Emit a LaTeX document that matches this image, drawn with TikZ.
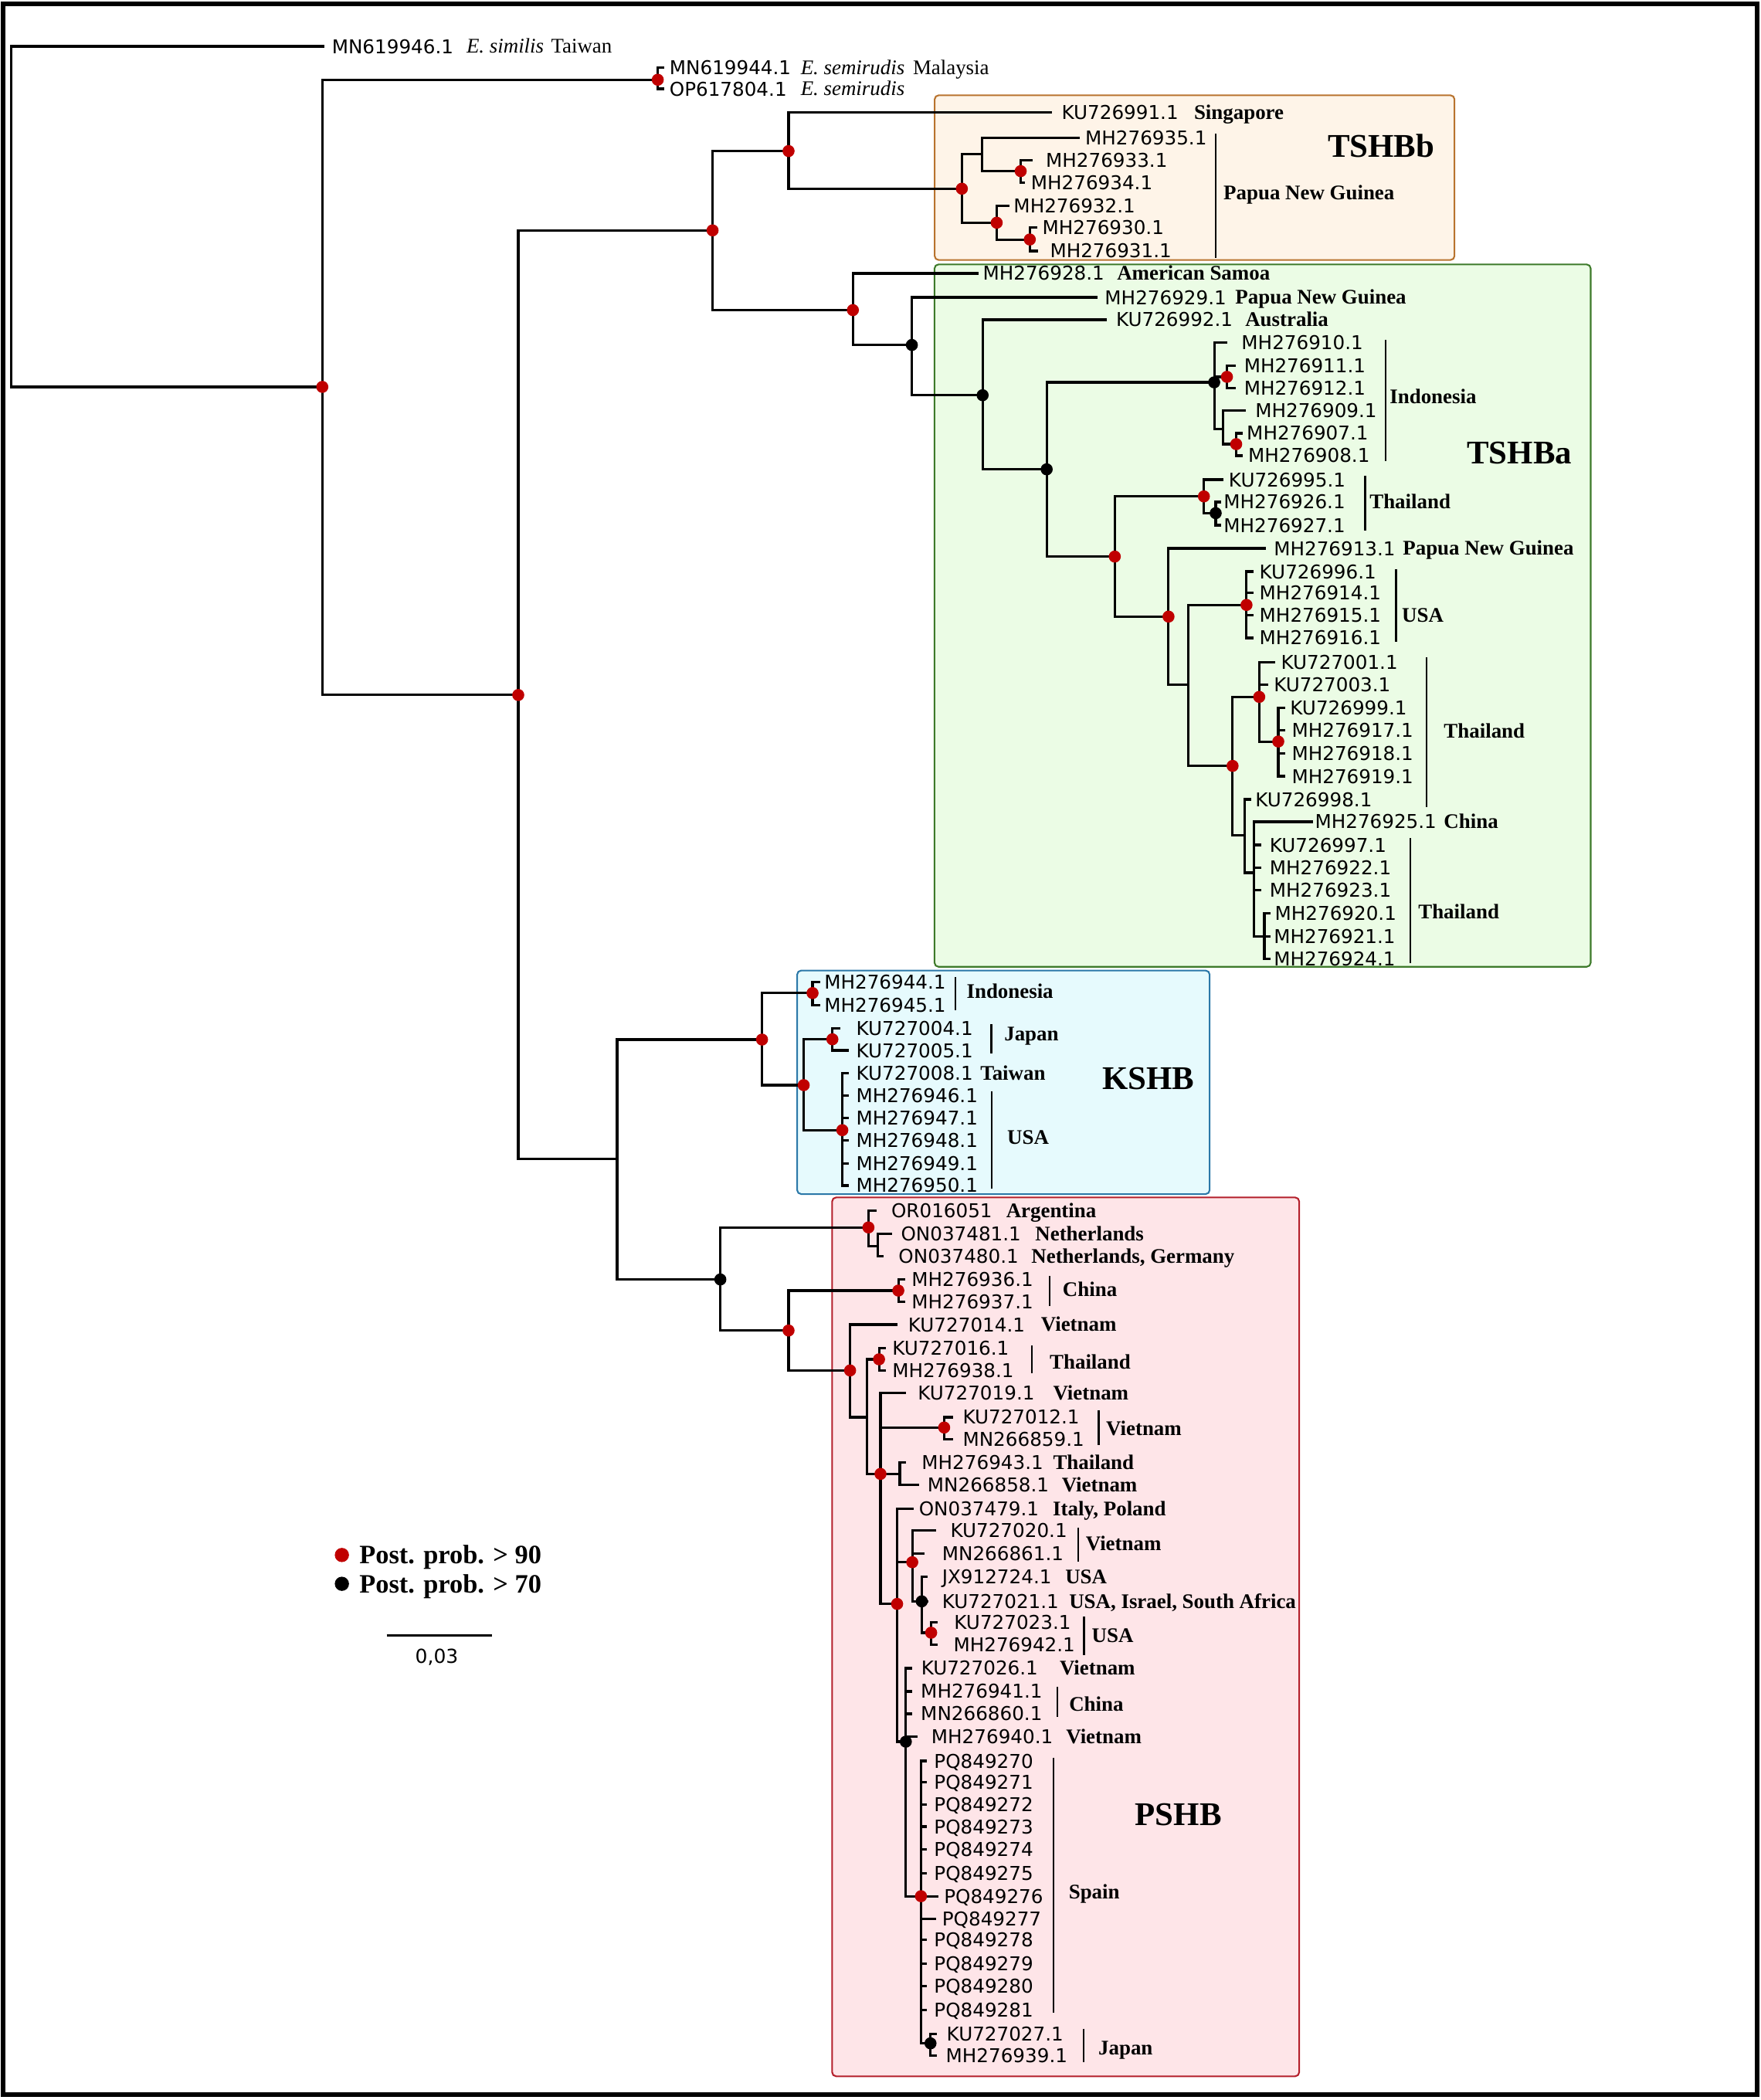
\documentclass[tikz,border=0pt]{standalone}
\usepackage{fontspec}
\newfontfamily\idf{DejaVu Sans}
\newfontfamily\serf{Liberation Serif}
\definecolor{dotred}{HTML}{C00000}
\definecolor{bbfill}{HTML}{FEF4E8}\definecolor{bbdraw}{HTML}{B8732E}
\definecolor{bafill}{HTML}{EBFCE5}\definecolor{badraw}{HTML}{3D7A2A}
\definecolor{kfill}{HTML}{E6FAFD}\definecolor{kdraw}{HTML}{2B78A8}
\definecolor{pfill}{HTML}{FEE5E8}\definecolor{pdraw}{HTML}{B41F2B}
\tikzset{
 br/.style={line width=1.8pt, line cap=rect},
 bk/.style={line width=1.4pt},
 cbox/.style={line width=1.2pt, rounded corners=3pt},
 idl/.style={anchor=west, inner sep=0pt, font=\idf\fontsize{14.2}{16}\selectfont, text height=10.35pt, text depth=0pt},
 ctl/.style={anchor=west, inner sep=0pt, font=\serf\bfseries\fontsize{15.5}{18}\selectfont, text height=10.26pt, text depth=0pt},
 spl/.style={anchor=west, inner sep=0pt, font=\serf\itshape\fontsize{15.5}{18}\selectfont, text height=10.26pt, text depth=0pt},
 rgl/.style={anchor=west, inner sep=0pt, font=\serf\fontsize{15.5}{18}\selectfont, text height=10.26pt, text depth=0pt},
 cll/.style={anchor=base west, inner sep=0pt, font=\serf\bfseries\fontsize{24.7}{28}\selectfont},
 lgl/.style={anchor=west, inner sep=0pt, font=\serf\bfseries\fontsize{19.8}{22}\selectfont, text height=13.1pt, text depth=0pt},
}
\newcommand\tip[6]{\coordinate (#2) at (#3,#4); \draw[br] (#1) |- (#2); \node[idl] (#2l) at (#5,#4) {#6};}
\newcommand\inode[4]{\coordinate (#2) at (#3,#4); \draw[br] (#1) |- (#2);}
\newcommand\ctry[4]{\node[ctl] (#1) at (#2,#3) {#4};}
\begin{document}
\begin{tikzpicture}[x=1pt,y=-1pt]
\useasboundingbox (0,0) rectangle (1314,1567);
% clade boxes
\draw[cbox, draw=bbdraw, fill=bbfill] (697.4,71.1) rectangle (1085.3,194.0);
\draw[cbox, draw=badraw, fill=bafill] (697.3,197.3) rectangle (1186.9,721.4);
\draw[cbox, draw=kdraw, fill=kfill] (594.8,724.2) rectangle (902.6,891.0);
\draw[cbox, draw=pdraw, fill=pfill] (620.9,893.5) rectangle (969.4,1549.3);
% frame
\draw[line width=3.5pt] (2.5,3) rectangle (1311.2,1563.2);

% ---------- tree ----------
\coordinate (root) at (8.6,288.7);
\tip{root}{tMN619946}{241}{34.6}{247.5}{MN619946.1}
\node[spl] (sp1) at (347.9,34.6) {E. similis};
\node[rgl] (c0) at (411.0,34.6) {Taiwan};
\inode{root}{n1}{240.5}{288.7}
\inode{n1}{sem}{490.8}{59.5}
\tip{sem}{tMN619944}{495}{50.3}{499.4}{MN619944.1}
\tip{sem}{tOP617804}{495}{66.3}{499.4}{OP617804.1}
\node[spl] (sp2) at (597.3,50.3) {E. semirudis};
\node[rgl] (c00) at (681.0,50.3) {Malaysia};
\node[spl] (sp3) at (597.3,66.3) {E. semirudis};
\inode{n1}{n2}{386.7}{518.6}
\inode{n2}{n3}{531.7}{171.9}
% TSHBb
\inode{n3}{A}{588.4}{112.7}
\tip{A}{tKU726991}{784.3}{84.1}{792}{KU726991.1}
\ctry{cSing}{890.8}{84.1}{Singapore}
\inode{A}{B}{717.7}{140.8}
\inode{B}{C}{732.9}{114.9}
\tip{C}{tMH276935}{804.6}{102.8}{809.6}{MH276935.1}
\inode{C}{D}{761.6}{127.7}
\tip{D}{tMH276933}{769.8}{119.5}{780.2}{MH276933.1}
\tip{D}{tMH276934}{764}{136.4}{769.1}{MH276934.1}
\inode{B}{E}{743.7}{166.2}
\tip{E}{tMH276932}{752.2}{153.7}{756.2}{MH276932.1}
\inode{E}{F}{768.4}{178.7}
\tip{F}{tMH276930}{772.9}{169.6}{777.6}{MH276930.1}
\tip{F}{tMH276931}{773.9}{187.3}{783.3}{MH276931.1}
\draw[bk] (907,99.9) -- (907,192.5);
\ctry{cPNG1}{912.8}{144.1}{Papua New Guinea}
\node[cll] (TSHBb) at (990.6,117.2) {TSHBb};
% TSHBa
\inode{n3}{G}{636.4}{231.4}
\tip{G}{tMH276928}{729.4}{204.0}{733.2}{MH276928.1}
\ctry{cAS}{833.3}{204.0}{American Samoa}
\inode{G}{H}{680.4}{257.4}
\tip{H}{tMH276929}{818.0}{221.9}{824.2}{MH276929.1}
\ctry{cPNG2}{921.6}{221.9}{Papua New Guinea}
\inode{H}{I}{733.2}{294.9}
\tip{I}{tKU726992}{824.9}{238.6}{832.6}{KU726992.1}
\ctry{cAus}{929.0}{238.6}{Australia}
\inode{I}{J}{781.0}{350.2}
\inode{J}{K}{906.0}{285.3}
\tip{K}{tMH276910}{915.1}{255.5}{926.2}{MH276910.1}
\inode{K}{K1}{915.5}{281.2}
\tip{K1}{tMH276911}{921}{272.8}{928.1}{MH276911.1}
\tip{K1}{tMH276912}{921}{289.7}{928.1}{MH276912.1}
\inode{K}{K2}{912.8}{319.9}
\tip{K2}{tMH276909}{928.9}{306.4}{936.5}{MH276909.1}
\inode{K2}{K3}{922.4}{331.4}
\tip{K3}{tMH276907}{926.5}{323.3}{930.1}{MH276907.1}
\tip{K3}{tMH276908}{926.5}{340.0}{931.2}{MH276908.1}
\draw[bk] (1034.0,253.6) -- (1034.0,343.9);
\ctry{cIndo1}{1036.8}{295.8}{Indonesia}
\node[cll] (TSHBa) at (1094.4,345.8) {TSHBa};
\inode{J}{L}{831.8}{415.3}
\inode{L}{M}{898.3}{370.4}
\tip{M}{tKU726995}{912.1}{357.9}{916.7}{KU726995.1}
\inode{M}{M1}{907.1}{382.9}
\tip{M1}{tMH276926}{910.5}{374.6}{912.9}{MH276926.1}
\tip{M1}{tMH276927}{910.5}{391.9}{912.9}{MH276927.1}
\draw[bk] (1018.7,355.0) -- (1018.7,396.1);
\ctry{cTh1}{1021.8}{374.2}{Thailand}
\inode{L}{N}{871.9}{460.1}
\tip{N}{tMH276913}{943.4}{409.2}{950.3}{MH276913.1}
\ctry{cPNG3}{1046.6}{409.2}{Papua New Guinea}
\inode{N}{O}{886.9}{511.0}
\inode{O}{P}{930.1}{451.4}
\tip{P}{tKU726996}{934.5}{426.5}{939.6}{KU726996.1}
\tip{P}{tMH276914}{934.5}{442.2}{939.6}{MH276914.1}
\tip{P}{tMH276915}{934.5}{459.1}{939.6}{MH276915.1}
\tip{P}{tMH276916}{934.5}{476.0}{939.6}{MH276916.1}
\draw[bk] (1041.7,424.9) -- (1041.7,478.9);
\ctry{cUSA1}{1045.9}{459.1}{USA}
\inode{O}{Q}{919.7}{571.5}
\inode{Q}{R}{939.6}{520.0}
\tip{R}{tKU727001}{950.3}{494.1}{955.7}{KU727001.1}
\tip{R}{tKU727003}{945.3}{511.0}{950.3}{KU727003.1}
\inode{R}{R1}{953.8}{553.3}
\tip{R1}{tKU726999}{958}{528.3}{962.5}{KU726999.1}
\tip{R1}{tMH276917}{958}{545.0}{963.7}{MH276917.1}
\tip{R1}{tMH276918}{958}{562.3}{963.7}{MH276918.1}
\tip{R1}{tMH276919}{958}{579.2}{963.7}{MH276919.1}
\draw[bk] (1064.6,490.4) -- (1064.6,602.3);
\ctry{cTh2}{1077.2}{545.6}{Thailand}
\inode{Q}{S}{928.9}{623.4}
\tip{S}{tKU726998}{932.5}{596.5}{936.5}{KU726998.1}
\inode{S}{T}{935.8}{651.2}
\tip{T}{tMH276925}{979}{613.2}{981}{MH276925.1}
\ctry{cChina1}{1077.2}{613.2}{China}
\tip{T}{tKU726997}{940.5}{630.5}{947.2}{KU726997.1}
\tip{T}{tMH276922}{940.5}{647.4}{947.2}{MH276922.1}
\tip{T}{tMH276923}{940.5}{664.3}{947.2}{MH276923.1}
\inode{T}{U}{943.4}{698.7}
\tip{U}{tMH276920}{947}{681.6}{951.1}{MH276920.1}
\tip{U}{tMH276921}{947}{698.7}{950.3}{MH276921.1}
\tip{U}{tMH276924}{947}{715.6}{950.3}{MH276924.1}
\draw[bk] (1052.4,625.3) -- (1052.4,718.5);
\ctry{cTh3}{1058.1}{680.1}{Thailand}
% KSHB
\inode{n2}{W}{460.5}{865.0}
\inode{W}{X}{568.6}{775.7}
\inode{X}{X1}{606.3}{741.0}
\tip{X1}{tMH276944}{611}{732.9}{614.9}{MH276944.1}
\tip{X1}{tMH276945}{611}{750.2}{614.9}{MH276945.1}
\draw[bk] (712.8,729.0) -- (712.8,754.0);
\ctry{cIndo2}{721.1}{739.6}{Indonesia}
\inode{X}{Y}{599.7}{809.7}
\inode{Y}{Y1}{621.1}{775.5}
\tip{Y1}{tKU727004}{626}{767.1}{638.7}{KU727004.1}
\tip{Y1}{tKU727005}{632.5}{783.8}{638.7}{KU727005.1}
\draw[bk] (739.6,764.2) -- (739.6,786.1);
\ctry{cJap1}{749.2}{771.3}{Japan}
\inode{Y}{Z}{628.5}{843.3}
\tip{Z}{tKU727008}{632.5}{800.7}{638.7}{KU727008.1}
\ctry{cTw}{731.3}{800.7}{Taiwan}
\tip{Z}{tMH276946}{632.5}{817.4}{638.7}{MH276946.1}
\tip{Z}{tMH276947}{632.5}{834.1}{638.7}{MH276947.1}
\tip{Z}{tMH276948}{632.5}{851.0}{638.7}{MH276948.1}
\tip{Z}{tMH276949}{632.5}{868.3}{638.7}{MH276949.1}
\tip{Z}{tMH276950}{632.5}{884.6}{638.7}{MH276950.1}
\draw[bk] (740.0,814.5) -- (740.0,887.1);
\ctry{cUSA2}{751.4}{848.7}{USA}
\node[cll] (KSHB) at (822.4,812.6) {KSHB};
% PSHB
\inode{W}{AA}{537.5}{954.7}
\inode{AA}{AB}{648.0}{915.9}
\tip{AB}{tOR016051}{653}{903.5}{664.9}{OR016051}
\ctry{cArg}{750.6}{903.5}{Argentina}
\coordinate (ABb) at (648.0,929.8);
\draw[br] (AB) -- (ABb);
\inode{ABb}{AB1}{654.8}{929.8}
\tip{AB1}{tON037481}{664.9}{920.6}{672.1}{ON037481.1}
\ctry{cNeth}{772.3}{920.6}{Netherlands}
\tip{AB1}{tON037480}{658.4}{937.5}{670.3}{ON037480.1}
\ctry{cNG}{769.4}{937.5}{Netherlands, Germany}
\inode{AA}{AC}{588.4}{992.8}
\inode{AC}{AD}{670.3}{963.0}
\tip{AD}{tMH276936}{674.5}{954.8}{680.1}{MH276936.1}
\tip{AD}{tMH276937}{674.5}{971.5}{680.1}{MH276937.1}
\draw[bk] (783.1,952.3) -- (783.1,974.5);
\ctry{cChina2}{792.8}{962.4}{China}
\inode{AC}{AE}{634.3}{1022.6}
\tip{AE}{tKU727014}{668.5}{988.4}{677.5}{KU727014.1}
\ctry{cViet1}{776.6}{988.4}{Vietnam}
\inode{AE}{AF}{646.9}{1057.5}
\inode{AF}{AG}{655.9}{1014.3}
\tip{AG}{tKU727016}{660}{1005.7}{665.6}{KU727016.1}
\tip{AG}{tMH276938}{660}{1022.6}{665.6}{MH276938.1}
\draw[bk] (770.1,1004.1) -- (770.1,1024.9);
\ctry{cTh4}{783.1}{1016.2}{Thailand}
\inode{AF}{AH}{657.0}{1099.8}
\tip{AH}{tKU727019}{675.0}{1039.3}{684.7}{KU727019.1}
\ctry{cViet2}{785.6}{1039.3}{Vietnam}
\inode{AH}{AI}{704.5}{1065.2}
\tip{AI}{tKU727012}{710}{1057.5}{718.2}{KU727012.1}
\tip{AI}{tMN266859}{710}{1073.9}{718.2}{MN266859.1}
\draw[bk] (819.8,1052.1) -- (819.8,1078.3);
\ctry{cViet3}{825.2}{1066.2}{Vietnam}
\inode{AH}{AJ}{671.4}{1099.8}
\tip{AJ}{tMH276943}{675}{1091.1}{687.6}{MH276943.1}
\ctry{cTh5}{785.6}{1091.1}{Thailand}
\tip{AJ}{tMN266858}{684.7}{1107.9}{691.9}{MN266858.1}
\ctry{cViet4}{792.1}{1107.9}{Vietnam}
\inode{AH}{AK}{669.4}{1196.8}
\tip{AK}{tON037479}{680.7}{1125.7}{685.5}{ON037479.1}
\ctry{cItPl}{785.4}{1125.7}{Italy, Poland}
\inode{AK}{AL}{680.7}{1165.7}
\tip{AL}{tKU727020}{697.7}{1142.1}{709.0}{KU727020.1}
\tip{AL}{tMN266861}{689.2}{1159.3}{702.8}{MN266861.1}
\draw[bk] (804.6,1139.8) -- (804.6,1165.1);
\ctry{cViet5}{810.0}{1152.0}{Vietnam}
\inode{AL}{AN}{687.8}{1194.9}
\tip{AN}{tJX912724}{691.5}{1176.6}{702.8}{JX912724.1}
\ctry{cUSA3}{794.7}{1176.6}{USA}
\tip{AN}{tKU727021}{692}{1194.9}{702.8}{KU727021.1}
\ctry{cUISA}{797.6}{1194.9}{USA, Israel, South Africa}
\inode{AN}{AO}{694.8}{1218.3}
\tip{AO}{tKU727023}{698.5}{1210.3}{711.8}{KU727023.1}
\tip{AO}{tMH276942}{698.5}{1227.0}{711.3}{MH276942.1}
\draw[bk] (808.9,1206.4) -- (808.9,1235.2);
\ctry{cUSA4}{814.5}{1220.4}{USA}
\inode{AK}{AP}{675.9}{1299.6}
\tip{AP}{tKU727026}{679.5}{1244.8}{687.2}{KU727026.1}
\ctry{cViet6}{790.5}{1244.8}{Vietnam}
\tip{AP}{tMH276941}{679.5}{1262.1}{686.9}{MH276941.1}
\tip{AP}{tMN266860}{679.5}{1278.8}{686.9}{MN266860.1}
\draw[bk] (789.1,1258.9) -- (789.1,1281.3);
\ctry{cChina3}{797.6}{1271.7}{China}
\tip{AP}{tMH276940}{683.5}{1295.7}{694.8}{MH276940.1}
\ctry{cViet7}{795.3}{1295.7}{Vietnam}
\inode{AP}{AQ}{687.2}{1414.9}
\tip{AQ}{tPQ849270}{690.5}{1314.0}{696.8}{PQ849270}
\tip{AQ}{tPQ849271}{690.5}{1330.0}{696.8}{PQ849271}
\tip{AQ}{tPQ849272}{690.5}{1346.3}{696.8}{PQ849272}
\tip{AQ}{tPQ849273}{690.5}{1363.0}{696.8}{PQ849273}
\tip{AQ}{tPQ849274}{690.5}{1379.9}{696.8}{PQ849274}
\tip{AQ}{tPQ849275}{690.5}{1397.6}{696.8}{PQ849275}
\tip{AQ}{tPQ849276}{699.1}{1414.9}{704.2}{PQ849276}
\tip{AQ}{tPQ849277}{697.5}{1431.8}{702.8}{PQ849277}
\tip{AQ}{tPQ849278}{690.5}{1447.5}{696.8}{PQ849278}
\tip{AQ}{tPQ849279}{690.5}{1465.2}{696.8}{PQ849279}
\tip{AQ}{tPQ849280}{690.5}{1482.1}{696.8}{PQ849280}
\tip{AQ}{tPQ849281}{690.5}{1499.8}{696.8}{PQ849281}
\draw[bk] (786.2,1311.5) -- (786.2,1501.7);
\ctry{cSpain}{797.3}{1411.6}{Spain}
\inode{AQ}{AR}{694.3}{1524.7}
\tip{AR}{tKU727027}{698}{1517.6}{706.2}{KU727027.1}
\tip{AR}{tMH276939}{698}{1534.0}{705.6}{MH276939.1}
\draw[bk] (808.6,1513.8) -- (808.6,1538.8);
\ctry{cJap2}{819.4}{1528.2}{Japan}
\node[cll] (PSHB) at (846.8,1362.0) {PSHB};

% support dots
\foreach \n in {n1,sem,n2,n3,A,B,D,E,F,G,K1,K3,L,M,N,P,Q,R,R1,X,X1,Y,Y1,Z,AB,AC,AD,AE,AG,AH,AI,AK,AL,AO,AQ}
  \fill[dotred] (\n) circle (4.5pt);
\foreach \n in {H,I,J,K,M1,AA,AN,AP,AR}
  \fill[black] (\n) circle (4.5pt);

% legend
\coordinate (lg1) at (255.1,1160.3);
\coordinate (lg2) at (255.1,1181.8);
\fill[dotred] (lg1) circle (5.3pt);
\fill[black] (lg2) circle (5.3pt);
\node[lgl] (lgt1) at (268.0,1160.3) {Post. prob. > 90};
\node[lgl] (lgt2) at (268.0,1181.8) {Post. prob. > 70};
% scale bar
\coordinate (sbl) at (288.5,1220.4);
\coordinate (sbr) at (366.9,1220.4);
\draw[line width=1.8pt] (sbl) -- (sbr);
\node[inner sep=0pt, font=\idf\fontsize{14.4}{16}\selectfont, text height=10.5pt, text depth=0pt] (sbt) at (325.9,1235.8) {0,03};
\end{tikzpicture}
\end{document}
